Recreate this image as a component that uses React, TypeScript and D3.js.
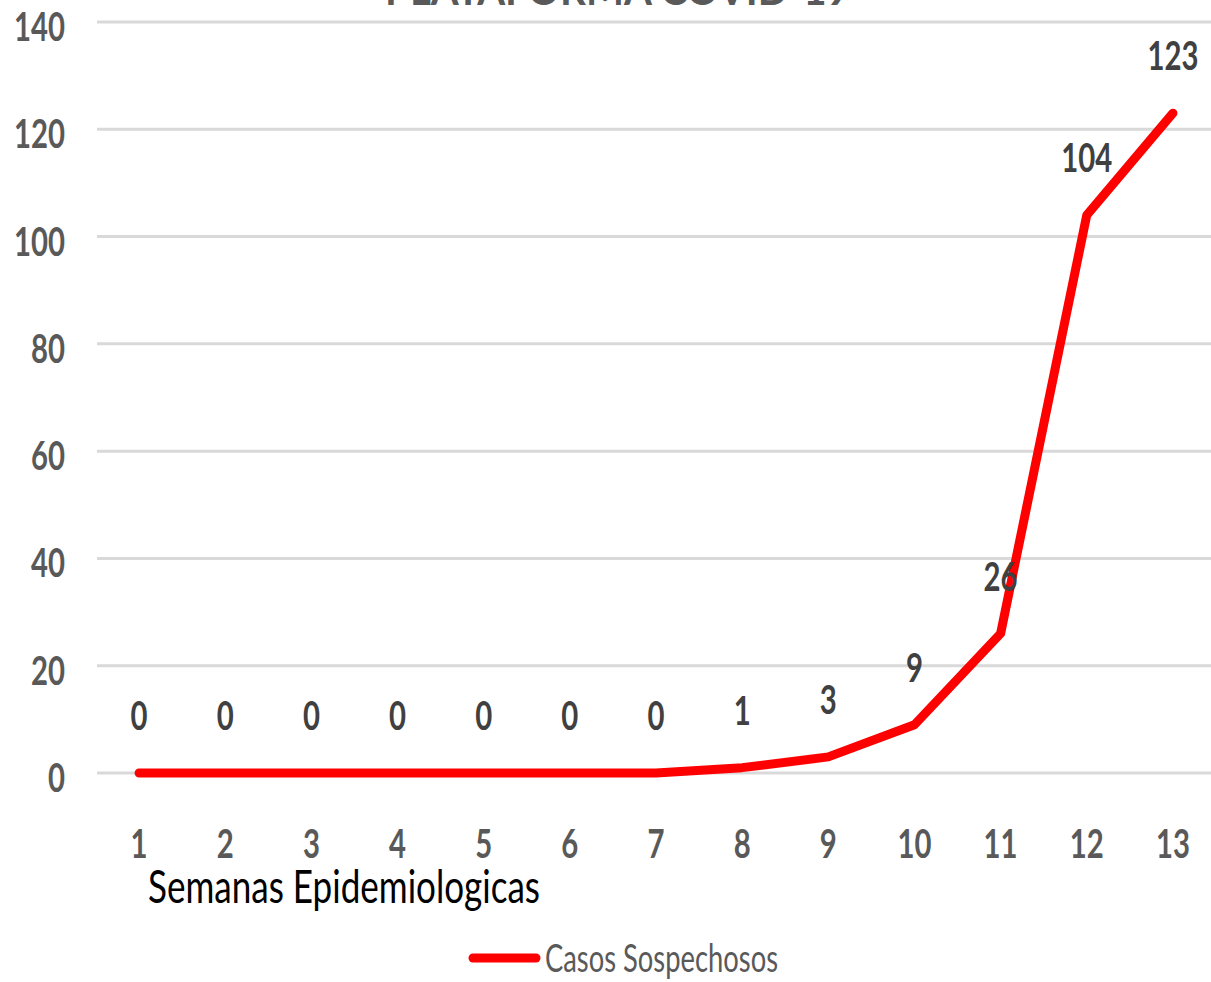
import { useRef, useEffect } from 'react'
import * as d3 from 'd3'

const weeks: string[] = ['1', '2', '3', '4', '5', '6', '7', '8', '9', '10', '11', '12', '13']
const suspectedCases: number[] = [0, 0, 0, 0, 0, 0, 0, 1, 3, 9, 26, 104, 123]
const yTicks: number[] = [0, 20, 40, 60, 80, 100, 120, 140]
const seriesName = 'Casos Sospechosos'
const axisTitle = 'Semanas Epidemiologicas'
const chartTitle = 'PLATAFORMA COVID-19'

const App: React.FC = () => {
  const chartRef = useRef<SVGSVGElement>(null)

  useEffect(() => {
    if (!chartRef.current) return

    const width = 1211
    const height = 982
    const font = 'Lato, "Open Sans", sans-serif'
    const digitW = 17

    const svg = d3.select(chartRef.current)
    svg.selectAll('*').remove()
    svg.attr('width', width).attr('height', height)

    const x = d3.scalePoint<string>().domain(weeks).range([96, 1216]).padding(0.5)
    const y = d3.scaleLinear().domain([0, 140]).range([773, 22])

    // title, mostly cut off at the top
    svg
      .append('text')
      .attr('x', 385)
      .attr('y', 5)
      .attr('textLength', 465)
      .attr('lengthAdjust', 'spacingAndGlyphs')
      .attr('font-family', font)
      .attr('font-weight', 700)
      .attr('font-size', 44)
      .attr('fill', '#595959')
      .text(chartTitle)

    // gridlines
    svg
      .append('g')
      .selectAll('line')
      .data(yTicks)
      .enter()
      .append('line')
      .attr('x1', 97)
      .attr('x2', width)
      .attr('y1', (d) => y(d))
      .attr('y2', (d) => y(d))
      .attr('stroke', '#d9d9d9')
      .attr('stroke-width', 3)

    // y tick labels
    svg
      .append('g')
      .selectAll('text')
      .data(yTicks)
      .enter()
      .append('text')
      .attr('x', 65)
      .attr('y', (d) => y(d) + 19)
      .attr('text-anchor', 'end')
      .attr('textLength', (d) => String(d).length * digitW)
      .attr('lengthAdjust', 'spacingAndGlyphs')
      .attr('font-family', font)
      .attr('font-weight', 700)
      .attr('font-size', 41)
      .attr('fill', '#595959')
      .text((d) => String(d))

    // x tick labels
    svg
      .append('g')
      .selectAll('text')
      .data(weeks)
      .enter()
      .append('text')
      .attr('x', (d) => x(d) as number)
      .attr('y', 858)
      .attr('text-anchor', 'middle')
      .attr('textLength', (d) => d.length * digitW)
      .attr('lengthAdjust', 'spacingAndGlyphs')
      .attr('font-family', font)
      .attr('font-weight', 700)
      .attr('font-size', 40)
      .attr('fill', '#595959')
      .text((d) => d)

    // axis title
    svg
      .append('text')
      .attr('x', 148)
      .attr('y', 903)
      .attr('textLength', 392)
      .attr('lengthAdjust', 'spacingAndGlyphs')
      .attr('font-family', font)
      .attr('font-size', 47)
      .attr('fill', '#000000')
      .text(axisTitle)

    // line
    const line = d3
      .line<number>()
      .x((_, i) => x(weeks[i]) as number)
      .y((d) => y(d))

    svg
      .append('path')
      .datum(suspectedCases)
      .attr('d', line)
      .attr('fill', 'none')
      .attr('stroke', '#ff0000')
      .attr('stroke-width', 9)
      .attr('stroke-linecap', 'round')
      .attr('stroke-linejoin', 'round')

    // data labels
    svg
      .append('g')
      .selectAll('text')
      .data(suspectedCases)
      .enter()
      .append('text')
      .attr('x', (_, i) => x(weeks[i]) as number)
      .attr('y', (d) => y(d) - 43)
      .attr('text-anchor', 'middle')
      .attr('textLength', (d) => String(d).length * digitW)
      .attr('lengthAdjust', 'spacingAndGlyphs')
      .attr('font-family', font)
      .attr('font-weight', 700)
      .attr('font-size', 40)
      .attr('fill', '#404040')
      .text((d) => String(d))

    // legend
    svg
      .append('line')
      .attr('x1', 473)
      .attr('x2', 536)
      .attr('y1', 958)
      .attr('y2', 958)
      .attr('stroke', '#ff0000')
      .attr('stroke-width', 9)
      .attr('stroke-linecap', 'round')

    svg
      .append('text')
      .attr('x', 545)
      .attr('y', 972)
      .attr('textLength', 233)
      .attr('lengthAdjust', 'spacingAndGlyphs')
      .attr('font-family', font)
      .attr('font-size', 38)
      .attr('fill', '#595959')
      .text(seriesName)
  }, [])

  return (
    <div style={{ position: 'absolute', left: 0, top: 0 }}>
      <svg ref={chartRef} style={{ display: 'block' }} />
    </div>
  )
}

export default App
